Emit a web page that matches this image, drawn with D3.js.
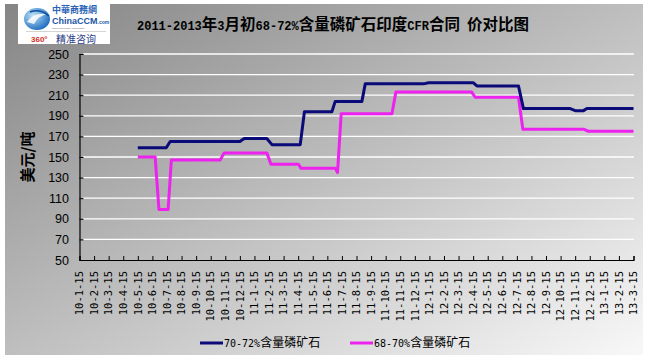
<!DOCTYPE html>
<html><head><meta charset="utf-8">
<script src="https://cdnjs.cloudflare.com/ajax/libs/d3/7.8.5/d3.min.js"></script>
<style>html,body{margin:0;padding:0;background:#fff;}svg{display:block;}</style>
</head><body>
<script>
// ---- data ----
const categories = ["10-1-15","10-2-15","10-3-15","10-4-15","10-5-15","10-6-15","10-7-15","10-8-15","10-9-15","10-10-15","10-11-15","10-12-15",
  "11-1-15","11-2-15","11-3-15","11-4-15","11-5-15","11-6-15","11-7-15","11-8-15","11-9-15","11-10-15","11-11-15","11-12-15",
  "12-1-15","12-2-15","12-3-15","12-4-15","12-5-15","12-6-15","12-7-15","12-8-15","12-9-15","12-10-15","12-11-15","12-12-15",
  "13-1-15","13-2-15","13-3-15"];
const yTicks = [50,70,90,110,130,150,170,190,210,230,250];
// positions along the category axis (month index, fractional = within the month)
const s1Name = "70-72%含量磷矿石";
const s1X = [4,5.95,6.22,11.0,11.3,12.85,13.2,15.14,15.43,17.31,17.54,19.37,19.6,23.6,23.94,27.02,27.26,30.11,30.45,33.66,34.0,34.57,34.8,38];
const s1Y = [159,159,165,165,168,168,162,162,194,194,204,204,221,221,222,222,219,219,197,197,195,195,197,197];
const s2Name = "68-70%含量磷矿石";
const s2X = [4,5.19,5.45,6.08,6.3,9.65,9.92,12.85,13.13,15.02,15.2,17.54,17.7,17.95,21.43,21.7,26.9,27.14,30.11,30.41,34.57,34.9,38];
const s2Y = [150,150,99,99,147,147,154,154,143,143,139,139,135,192,192,213,213,208,208,177,177,175,175];
const title = "2011-2013年3月初68-72%含量磷矿石印度CFR合同 价对比图";
const yTitle = "美元/吨";

const W = 651, H = 361;
const svg = d3.select("body").append("svg").attr("width", W).attr("height", H);
const defs = svg.append("defs");
const g = defs.append("linearGradient").attr("id","bg").attr("x1",0).attr("y1",0).attr("x2",1).attr("y2",1);
g.append("stop").attr("offset",0).attr("stop-color","#858585");
g.append("stop").attr("offset",1).attr("stop-color","#f8f8f8");
svg.append("rect").attr("x",5).attr("y",4).attr("width",638).attr("height",351).attr("fill","url(#bg)");

function rich(sel, str, aFam, aSize, cFam, cSize) {
  const runs = str.match(/[\x00-\x7F]+|[^\x00-\x7F]+/g) || [];
  runs.forEach(r => {
    const ascii = /^[\x00-\x7F]+$/.test(r);
    sel.append("tspan").attr("font-family", ascii ? aFam : cFam)
      .attr("font-size", ascii ? aSize : cSize).text(r);
  });
  return sel;
}

const x = d3.scaleLinear().domain([0, categories.length - 1]).range([79.5, 633.5]);
const y = d3.scaleLinear().domain([50, 250]).range([260, 54]);

// gridlines
svg.append("g").selectAll("line").data(yTicks.filter(d => d > 50)).join("line")
  .attr("x1", 83).attr("x2", 634).attr("y1", d => y(d)).attr("y2", d => y(d))
  .attr("stroke", "#ffffff").attr("stroke-width", 1.3);

// y axis
const yAxis = svg.append("g").attr("transform", "translate(79.5,0)")
  .call(d3.axisRight(y).tickValues(yTicks).tickSize(4).tickFormat(""));
yAxis.select(".domain").attr("stroke", "#000").attr("stroke-width", 1.2);
yAxis.selectAll(".tick line").attr("stroke", "#000");
svg.append("g").selectAll("text").data(yTicks).join("text")
  .attr("x", 69).attr("y", d => y(d)).attr("dy", "0.36em").attr("text-anchor", "end")
  .attr("font-family", "Liberation Sans, Arial, sans-serif").attr("font-size", 12.5).attr("fill", "#000")
  .text(d => d);

// x axis
const xAxis = svg.append("g").attr("transform", "translate(0,260)")
  .call(d3.axisTop(x).tickValues(d3.range(categories.length)).tickSize(4).tickFormat(""));
xAxis.select(".domain").attr("stroke", "#000").attr("stroke-width", 1.2);
xAxis.selectAll(".tick line").attr("stroke", "#000");
svg.append("g").selectAll("text").data(categories).join("text")
  .attr("transform", (d, i) => `translate(${x(i)},271) rotate(-90)`)
  .attr("dy", "0.36em").attr("text-anchor", "end")
  .attr("font-family", "DejaVu Sans Mono, monospace").attr("font-size", 10.5).attr("fill", "#000")
  .text(d => d);

// lines
const line = d3.line().x(d => x(d[0])).y(d => y(d[1]));
svg.append("path").datum(d3.zip(s2X, s2Y)).attr("d", line)
  .attr("fill", "none").attr("stroke", "#ee22ee").attr("stroke-width", 3).attr("stroke-linejoin", "round");
svg.append("path").datum(d3.zip(s1X, s1Y)).attr("d", line)
  .attr("fill", "none").attr("stroke", "#0a0a78").attr("stroke-width", 3).attr("stroke-linejoin", "round");

// title
rich(svg.append("text").attr("x", 137).attr("y", 29.5).attr("font-weight", "bold").attr("fill", "#000"),
  title, "Liberation Mono, monospace", 12, "Noto Sans CJK SC", 15.5);

// y title
rich(svg.append("text").attr("transform", "translate(33,157) rotate(-90)").attr("text-anchor", "middle")
  .attr("font-weight", "bold").attr("fill", "#000"), yTitle, "Noto Sans CJK SC", 15, "Noto Sans CJK SC", 15);

// legend
const legend = [{name: s1Name, color: "#0a0a78", x: 200}, {name: s2Name, color: "#ee22ee", x: 350}];
legend.forEach(l => {
  svg.append("line").attr("x1", l.x).attr("x2", l.x + 23).attr("y1", 343).attr("y2", 343)
    .attr("stroke", l.color).attr("stroke-width", 3);
  rich(svg.append("text").attr("x", l.x + 24).attr("y", 347).attr("fill", "#000"),
    l.name, "DejaVu Sans Mono, monospace", 10, "Noto Sans CJK SC", 12);
});

// logo
const logo = svg.append("g");
logo.append("rect").attr("x", 18).attr("y", 4).attr("width", 92).attr("height", 40).attr("fill", "#fff");
const lg = defs.append("radialGradient").attr("id", "globe").attr("cx", 0.35).attr("cy", 0.35).attr("r", 0.7);
lg.append("stop").attr("offset", 0).attr("stop-color", "#bfe4f8");
lg.append("stop").attr("offset", 1).attr("stop-color", "#1d6cc0");
logo.append("ellipse").attr("cx", 37).attr("cy", 19).attr("rx", 13).attr("ry", 11).attr("fill", "url(#globe)");
logo.append("path").attr("d", "M27,22 Q33,12 47,14 Q38,16 34,24 Z").attr("fill", "#ffffff").attr("opacity", 0.85);
logo.append("path").attr("d", "M30,12 Q40,8 49,16").attr("fill", "none").attr("stroke", "#0d4f9a").attr("stroke-width", 1.5);
logo.append("text").attr("x", 52).attr("y", 13.3).attr("font-family", "Noto Sans CJK TC").attr("font-weight", "bold")
  .attr("font-size", 9).attr("fill", "#2b63b8").text("中華商務網");
logo.append("text").attr("x", 52).attr("y", 24.3).attr("font-family", "Liberation Sans, Arial").attr("font-weight", "bold")
  .attr("font-size", 9).attr("fill", "#1a56a6").text("ChinaCCM").append("tspan").attr("font-size", 5).text(".com");
logo.append("text").attr("x", 52).attr("y", 28.8).attr("font-family", "Liberation Sans, Arial")
  .attr("font-size", 2.4).attr("fill", "#666").text("China Commodity Marketplace");
logo.append("line").attr("x1", 26).attr("x2", 106).attr("y1", 31.5).attr("y2", 31.5).attr("stroke", "#c9c9c9").attr("stroke-width", 0.8);
logo.append("text").attr("x", 31).attr("y", 42).attr("font-family", "Liberation Sans, Arial").attr("font-weight", "bold")
  .attr("font-size", 8).attr("fill", "#d2301e").text("360°");
logo.append("text").attr("x", 56).attr("y", 42.5).attr("font-family", "Noto Sans CJK SC")
  .attr("font-size", 10).attr("fill", "#2a3d86").text("精准咨询");
</script>
</body></html>
